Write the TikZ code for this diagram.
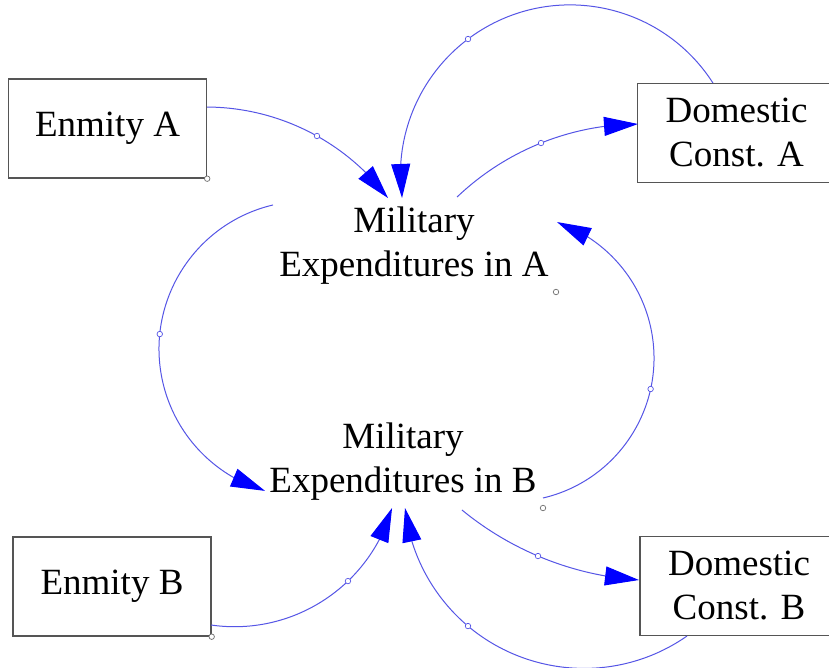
\documentclass[tikz,border=0pt]{standalone}
\usepackage{fontspec}
\setmainfont{Liberation Serif}
\usetikzlibrary{arrows.meta,bending,calc}
\definecolor{linkc}{RGB}{85,85,230}
\definecolor{headc}{RGB}{0,0,255}
\definecolor{boxc}{RGB}{85,85,85}
\definecolor{dotc}{RGB}{110,110,110}
\begin{document}
\begin{tikzpicture}[x=1pt,y=1pt,
  lbl/.style={font=\fontsize{37}{44}\selectfont, align=center, inner sep=0pt},
  varbox/.style={lbl, draw=boxc, line width=1.4pt, fill=white, minimum width=198pt, minimum height=99pt},
  link/.style={draw=linkc, line width=1pt, -{Triangle[length=34pt,width=19pt,flex=1,color=headc,fill=headc]}},
  polmark/.style={circle, draw=linkc, fill=white, line width=0.7pt, inner sep=0pt, minimum size=5.5pt},
  cornermark/.style={circle, draw=dotc, fill=white, line width=0.7pt, inner sep=0pt, minimum size=5.5pt}]
\useasboundingbox (0,0) rectangle (829,-668);
\fill[white] (0,0) rectangle (829,-668);

% variables
\node[varbox] (enA) at (107.5,-128.5) {Enmity A};
\node[varbox] (enB) at (112,-586.5) {Enmity B};
\node[varbox] (domA) at (736.5,-133) {Domestic\\Const. A};
\node[varbox] (domB) at (739,-586) {Domestic\\Const. B};
\node[lbl] (milA) at (414,-246) {Military\\Expenditures in A};
\node[lbl] (milB) at (403,-462) {Military\\Expenditures in B};

% corner markers
\node[cornermark] at (enA.south east) {};
\node[cornermark] at (enB.south east) {};
\node[cornermark] at ($(milA.center)+(142,-46)$) {};
\node[cornermark] at ($(milB.center)+(140,-46)$) {};

% arc centres
\coordinate (c1) at (205.7,-335.1);
\coordinate (c2) at (570.1,-174.6);
\coordinate (c3) at (639.5,-388.5);
\coordinate (c4) at (307,-349);
\coordinate (c5) at (510.2,-358);
\coordinate (c6) at (659.4,-269.6);
\coordinate (c7) at (584,-488.3);
\coordinate (c8) at (234.5,-462.8);

% connector start points
\coordinate (s1) at ($(c1)+(89.67:228.1)$);
\coordinate (s2) at ($(c2)+(32.66:169.7)$);
\coordinate (s3) at ($(c3)+(133.62:264.5)$);
\coordinate (s4) at ($(c4)+(103.28:148)$);
\coordinate (s5) at ($(c5)+(-76.8:143.8)$);
\coordinate (s6) at ($(c6)+(-129.4:311.1)$);
\coordinate (s7) at ($(c7)+(-55.11:180.1)$);
\coordinate (s8) at ($(c8)+(-98.24:163.9)$);

% connectors
\draw[link] (s1) arc[start angle=89.67, end angle=36.94, radius=228.1];
\draw[link] (s2) arc[start angle=32.66, end angle=187.92, radius=169.7];
\draw[link] (s3) arc[start angle=133.62, end angle=90.32, radius=264.5];
\draw[link] (s4) arc[start angle=103.28, end angle=253.52, radius=148];
\draw[link] (s5) arc[start angle=-76.8, end angle=71.0, radius=143.8];
\draw[link] (s6) arc[start angle=-129.4, end angle=-93.76, radius=311.1];
\draw[link] (s7) arc[start angle=-55.11, end angle=-173.72, radius=180.1];
\draw[link] (s8) arc[start angle=-98.24, end angle=-16.01, radius=163.9];

% polarity markers
\node[polmark] (m1) at ($(c1)+(60.8:228.1)$) {};
\node[polmark] (m2) at ($(c2)+(126.98:169.7)$) {};
\node[polmark] (m3) at ($(c3)+(111.86:264.5)$) {};
\node[polmark] (m4) at ($(c4)+(174.2:148)$) {};
\node[polmark] (m5) at ($(c5)+(-12.45:143.8)$) {};
\node[polmark] (m6) at ($(c6)+(-112.97:311.1)$) {};
\node[polmark] (m7) at ($(c7)+(-130.1:180.1)$) {};
\node[polmark] (m8) at ($(c8)+(-46.2:163.9)$) {};
\end{tikzpicture}
\end{document}
